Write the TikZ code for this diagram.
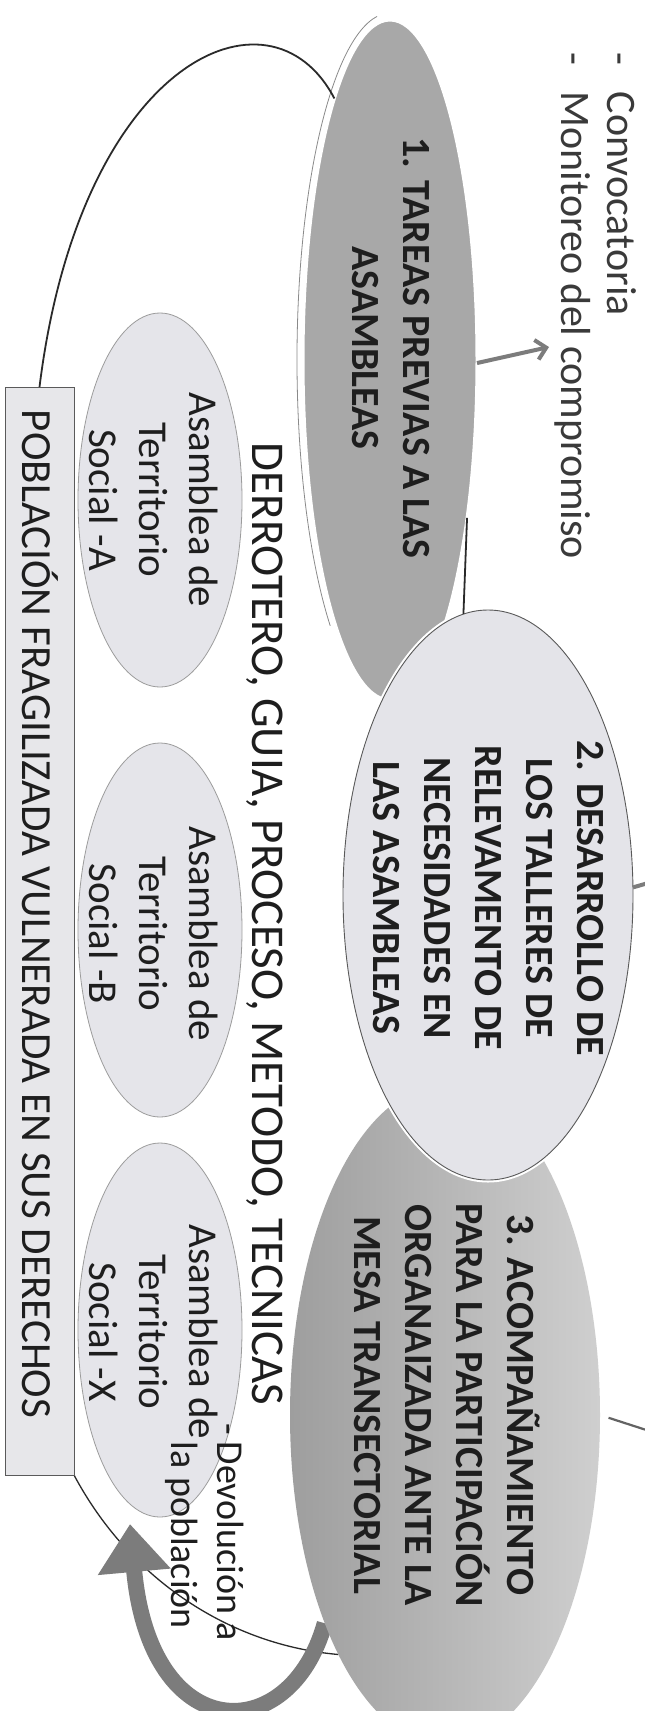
\documentclass[tikz,border=0pt]{standalone}
\usepackage{fontspec}
\setmainfont{Carlito}
\usetikzlibrary{shapes.geometric,arrows.meta}
\pgfdeclarelayer{background}
\pgfsetlayers{background,main}

\definecolor{eonefill}{HTML}{A8A8A8}
\definecolor{etwofill}{HTML}{E4E4E9}
\definecolor{asmfill}{HTML}{E5E5EA}
\definecolor{asmline}{HTML}{9C9C9C}
\definecolor{pobfill}{HTML}{E7E7EA}
\definecolor{pobline}{HTML}{5A5A5A}
\definecolor{arrowgray}{HTML}{7C7C7C}
\definecolor{rimgray}{HTML}{8A8A8A}
\definecolor{txt}{HTML}{1E1E1E}
\definecolor{bulcol}{HTML}{3A3A3A}
\definecolor{ethreeL}{HTML}{9E9E9E}
\definecolor{ethreeR}{HTML}{CFCFCF}
\definecolor{linedark}{HTML}{2A2A2A}

\newcommand\myfnum{\fontsize{40}{51}\selectfont\bfseries}
\newcommand\myfasm{\fontsize{41}{50}\selectfont}
\newcommand\myfder{\fontsize{47}{56}\selectfont}
\newcommand\myfpob{\fontsize{43}{52}\selectfont}
\newcommand\myfbul{\fontsize{42}{46}\selectfont}
\newcommand\myfdev{\fontsize{38}{46}\selectfont}

\begin{document}
\begin{tikzpicture}[x=1pt,y=-1pt,
  every node/.style={inner sep=0pt, outer sep=0pt},
  smallell/.style={ellipse, fill=asmfill, draw=asmline, line width=0.8pt,
    minimum width=164pt, minimum height=374pt},
  pobbox/.style={rectangle, fill=pobfill, draw=pobline, line width=0.9pt,
    minimum width=69pt, minimum height=1088pt},
  eonestyle/.style={ellipse, fill=eonefill, draw=white, line width=3pt,
    minimum width=174pt, minimum height=680pt},
  etwostyle/.style={ellipse, fill=etwofill, draw=black!65, line width=0.9pt,
    preaction={draw=white, line width=5pt},
    minimum width=290pt, minimum height=570pt},
  ethreestyle/.style={ellipse, left color=ethreeL, right color=ethreeR,
    draw=none, minimum width=310pt, minimum height=660pt},
  vtext/.style={rotate=-90, text=txt},
  thinline/.style={draw=linedark, line width=1.8pt},
  grayarrow/.style={draw=arrowgray, line width=4pt,
    -{Straight Barb[length=10pt,width=20pt]}},
  bigarrow/.style={draw=arrowgray, line width=16pt,
    -{Triangle[length=48pt,width=70pt]}},
]
\clip (0,0) rectangle (645,1711);

% rim of ellipse 1
\draw[rimgray, line width=0.8pt] (390,360) ++(262:93 and 347)
  arc[start angle=262, end angle=130, x radius=93, y radius=347];

% assemblies and base box
\node[smallell] (ea) at (160,500) {};
\node[smallell] (eb) at (160,930) {};
\node[smallell] (ex) at (160,1330) {};
\node[pobbox] (pob) at (39.5,931) {};

% main process ellipses
\node[eonestyle] (e1) at (390,360) {};
\node[ethreestyle] (e3) at (445,1415) {};
\node[etwostyle] (e2) at (488,895) {};

% texts
\node[vtext, align=center, font=\myfnum] (t1) at (391,348)
  {1. TAREAS PREVIAS A LAS\\ASAMBLEAS};
\node[vtext, align=center, font=\myfnum] (t2) at (488,898)
  {2. DESARROLLO DE\\LOS TALLERES DE\\RELEVAMENTO DE\\NECESIDADES EN\\LAS ASAMBLEAS};
\node[vtext, align=center, font=\myfnum] (t3) at (447,1405)
  {3. ACOMPAÑAMIENTO\\PARA LA PARTICIPACIÓN\\ORGANAIZADA ANTE LA\\MESA TRANSECTORIAL};
\node[vtext, align=center, font=\myfasm] (ta) at (154,500)
  {Asamblea de\\Territorio\\Social -A};
\node[vtext, align=center, font=\myfasm] (tb) at (154,934)
  {Asamblea de\\Territorio\\Social -B};
\node[vtext, align=center, font=\myfasm] (tx) at (154,1332)
  {Asamblea de\\Territorio\\Social -X};
\node[vtext, font=\myfder] (der) at (265,924)
  {DERROTERO, GUIA, PROCESO, METODO, TECNICAS};
\node[vtext, font=\myfpob] (pobt) at (40,914)
  {POBLACIÓN FRAGILIZADA VULNERADA EN SUS DERECHOS};
\node[rotate=-90, anchor=base west, font=\myfbul, text=bulcol] (bul) at (607,52)
  {\begin{tabular}[t]{@{}l@{\hspace{27pt}}l@{}}-&Convocatoria\\-&Monitoreo del compromiso\end{tabular}};
\node[rotate=-90, anchor=base west, font=\myfdev, text=txt] (dev) at (217,1423)
  {\begin{tabular}[t]{@{}l@{\hspace{7pt}}l@{}}-&Devolución a\\&la población\end{tabular}};

% free ends
\coordinate (a1end) at (549,347);
\coordinate (e2out) at (662,879);
\coordinate (e3out) at (668,1437);
\coordinate (bigtip) at (130,1524);

% connectors
\draw[thinline] (e1.102) .. controls (270,-25) and (80,60) .. (pob.north);
\draw[grayarrow] (e1.-2) -- (a1end);
\draw[thinline] (e1.-64) -- (e2.95);
\draw[draw=arrowgray, line width=4pt] (e2.3) -- (e2out);
\draw[draw=arrowgray!80!black, line width=2.2pt, shorten <=9pt] (e3.east) -- (e3out);

\begin{pgfonlayer}{background}
\fill[white] (0,0) rectangle (645,1711);
\draw[thinline, line width=1.3pt] (pob.south east) .. controls (130,1580) and (230,1645) .. (e3.246);
\draw[bigarrow] (e3.240) .. controls (290,1748) and (150,1748) .. (bigtip);
\end{pgfonlayer}
\end{tikzpicture}
\end{document}
